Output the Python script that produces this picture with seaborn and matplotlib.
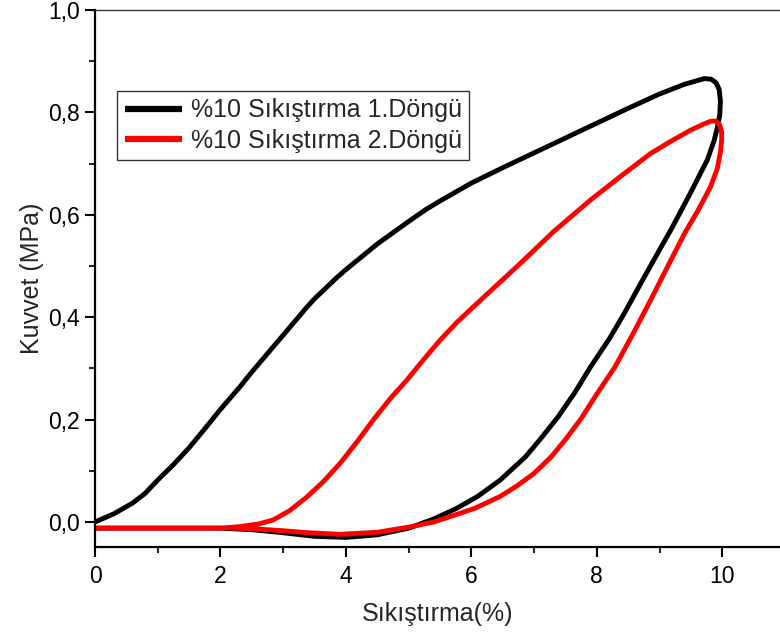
import numpy as np
import pandas as pd
import matplotlib
matplotlib.use("Agg")
import matplotlib.pyplot as plt
from matplotlib.ticker import MultipleLocator, FuncFormatter
import seaborn as sns

# --- data ---
labels = ["%10 Sıkıştırma 1.Döngü", "%10 Sıkıştırma 2.Döngü"]
colors = ["#000000", "#ff0000"]

# cycle 1 (black): loading then unloading
c1_x = [0.0, 0.3, 0.6, 0.8, 1.0, 1.25, 1.5, 1.75, 2.0, 2.31, 2.5, 2.84, 3.0, 3.38, 3.5, 3.86, 4.0,
        4.5, 5.0, 5.27, 5.5, 6.0, 6.5, 7.0, 7.5, 8.0, 8.5, 9.0, 9.4, 9.6, 9.71, 9.82, 9.9,
        9.95, 9.97, 9.96, 9.92, 9.87, 9.76, 9.49, 9.2, 8.97, 8.7, 8.44, 8.2, 7.9, 7.65, 7.38,
        7.1, 6.86, 6.46, 6.1, 5.77, 5.4, 5.0, 4.5, 4.0, 3.5, 3.0, 2.5, 2.0, 1.0, 0.0]
c1_y = [0.0, 0.016, 0.037, 0.056, 0.082, 0.112, 0.145, 0.182, 0.22, 0.264, 0.293, 0.342, 0.365, 0.42, 0.436, 0.478, 0.493,
        0.543, 0.587, 0.61, 0.627, 0.662, 0.692, 0.721, 0.75, 0.779, 0.808, 0.836, 0.855, 0.862, 0.866, 0.865, 0.858,
        0.845, 0.822, 0.795, 0.77, 0.745, 0.707, 0.642, 0.575, 0.525, 0.466, 0.408, 0.358, 0.303, 0.253, 0.205,
        0.162, 0.127, 0.082, 0.05, 0.027, 0.006, -0.012, -0.025, -0.03, -0.028, -0.021, -0.015, -0.012, -0.012, -0.012]

# cycle 2 (red): loading then unloading
c2_x = [0.0, 1.0, 2.0, 2.31, 2.6, 2.84, 3.1, 3.38, 3.65, 3.91, 4.18, 4.44, 4.7, 4.97, 5.23, 5.5,
        5.77, 6.03, 6.4, 6.78, 7.3, 7.9, 8.4, 8.86, 9.2, 9.49, 9.7, 9.82, 9.9, 9.96, 9.99, 9.99,
        9.97, 9.92, 9.81, 9.62, 9.4, 9.1, 8.86, 8.6, 8.29, 8.0, 7.75, 7.5, 7.27, 7.0, 6.72, 6.46,
        6.06, 5.77, 5.4, 5.0, 4.5, 3.91, 3.4, 3.0, 2.5, 2.2]
c2_y = [-0.012, -0.012, -0.012, -0.009, -0.004, 0.004, 0.022, 0.049, 0.08, 0.115, 0.157, 0.2, 0.24, 0.277, 0.316, 0.355,
        0.39, 0.42, 0.462, 0.505, 0.566, 0.629, 0.677, 0.72, 0.745, 0.765, 0.777, 0.783, 0.783, 0.775, 0.762, 0.745,
        0.722, 0.69, 0.654, 0.61, 0.564, 0.492, 0.434, 0.373, 0.303, 0.25, 0.202, 0.161, 0.127, 0.095, 0.07, 0.05,
        0.027, 0.015, 0.0, -0.01, -0.02, -0.024, -0.021, -0.017, -0.013, -0.012]

df = pd.concat([
    pd.DataFrame({"x": c1_x, "y": c1_y, "seri": labels[0]}),
    pd.DataFrame({"x": c2_x, "y": c2_y, "seri": labels[1]}),
], ignore_index=True)

sns.set_theme(style="ticks")
plt.rcParams["font.family"] = ["Liberation Sans", "DejaVu Sans"]

fig = plt.figure(figsize=(7.8, 6.38), dpi=100)
ax = fig.add_axes([95 / 780, 1 - 547 / 638, 1 - 95 / 780, (547 - 10) / 638])

sns.lineplot(data=df, x="x", y="y", hue="seri", palette=dict(zip(labels, colors)),
             sort=False, estimator=None, linewidth=3.5, ax=ax,
             solid_joinstyle="round", solid_capstyle="round")

ax.set_xlim(0, 10.92)
ax.set_ylim(-0.0488, 1.0)
ax.xaxis.set_major_locator(MultipleLocator(2))
ax.xaxis.set_minor_locator(MultipleLocator(1))
ax.yaxis.set_major_locator(MultipleLocator(0.2))
ax.yaxis.set_minor_locator(MultipleLocator(0.1))
ax.xaxis.set_major_formatter(FuncFormatter(lambda v, p: f"{v:.0f}"))
ax.yaxis.set_major_formatter(FuncFormatter(lambda v, p: f"{v:.1f}".replace(".", ",")))

ax.tick_params(axis="both", which="major", direction="out", length=7, width=1.5,
               labelsize=16.5, colors="black")
ax.tick_params(axis="x", which="major", pad=6)
ax.tick_params(axis="y", which="major", pad=4)
ax.tick_params(axis="both", which="minor", direction="out", length=4, width=1.5)
ax.tick_params(axis="x", which="both", top=False)
ax.tick_params(axis="y", which="both", right=False)

for s in ["left", "bottom"]:
    ax.spines[s].set_linewidth(1.6)
    ax.spines[s].set_color("black")
ax.spines["top"].set_linewidth(1.0)
ax.spines["top"].set_color("#333333")
ax.spines["right"].set_visible(False)

ax.set_xlabel("Sıkıştırma(%)", fontsize=18, labelpad=10)
ax.set_ylabel("Kuvvet (MPa)", fontsize=18, labelpad=3)

leg = ax.legend(loc="upper left", bbox_to_anchor=((117 - 95) / 685, (547 - 91) / 537),
                borderaxespad=0, fontsize=18, handlelength=2.3, handletextpad=0.35,
                labelspacing=0.25, borderpad=0.3, fancybox=False, frameon=True)
leg.get_frame().set_edgecolor("black")
leg.get_frame().set_linewidth(1.0)
for line in leg.get_lines():
    line.set_linewidth(4.5)
    line.set_solid_capstyle("butt")

fig.savefig("out.png", dpi=100)
